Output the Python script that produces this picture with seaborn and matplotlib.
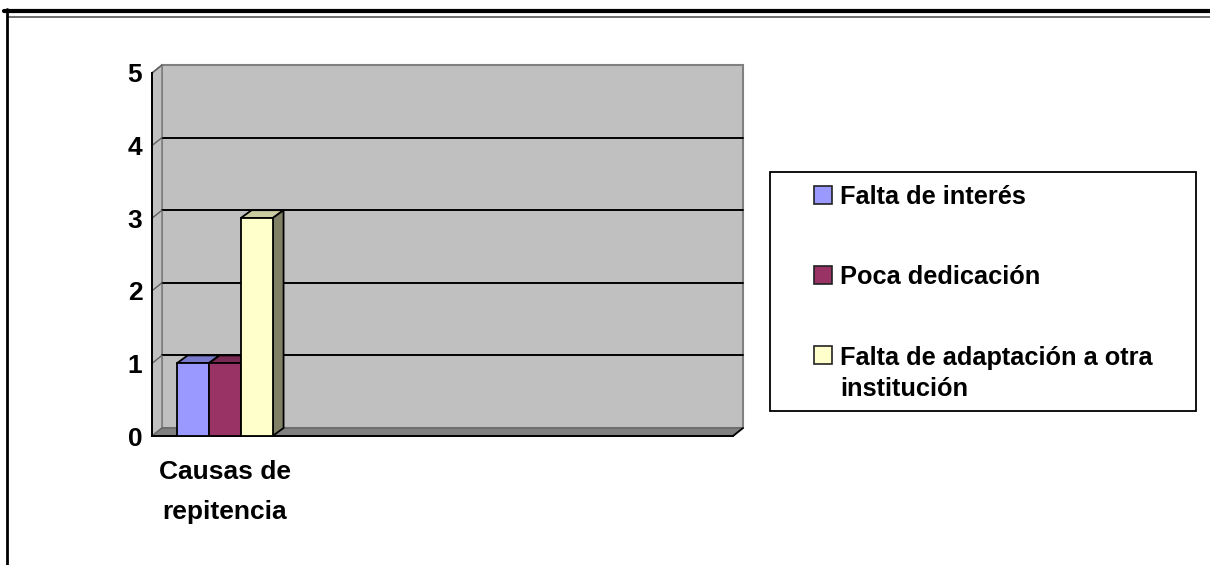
import matplotlib
matplotlib.use("Agg")
import pandas as pd
import matplotlib.pyplot as plt
from matplotlib.patches import Polygon, Rectangle
from matplotlib.lines import Line2D
import seaborn as sns

# chart data
categories = ["Causas de\nrepitencia"]
series = ["Falta de interés", "Poca dedicación", "Falta de adaptación a otra\ninstitución"]
values = [1, 1, 3]
colors = ["#9999FF", "#993366", "#FFFFCC"]
y_ticks = [0, 1, 2, 3, 4, 5]
n_slots = 4  # Excel left three empty category slots

W, H = 1210, 565
FONT = "Liberation Sans"
FS = 19
LEG_FS = 18.3


def shade(hex_color, k):
    r, g, b = matplotlib.colors.to_rgb(hex_color)
    return (r * k, g * k, b * k)


def main() -> None:
    sns.set_style("white")
    plt.rcParams["font.family"] = [FONT, "DejaVu Sans"]
    plt.rcParams["text.color"] = "black"
    plt.rcParams["xtick.color"] = "black"
    plt.rcParams["ytick.color"] = "black"

    fig = plt.figure(figsize=(W / 100, H / 100), dpi=100)
    # front plane of the 3d box, in pixels
    left, right, top, bottom = 152, 733, 73, 436
    ax = fig.add_axes([left / W, 1 - bottom / H, (right - left) / W, (bottom - top) / H])
    ax.set_facecolor("none")

    df = pd.DataFrame({
        "categoria": [categories[0]] * len(series),
        "causa": series,
        "valor": values,
    })
    sns.barplot(
        data=df, x="categoria", y="valor", hue="causa",
        order=categories, hue_order=series, palette=colors,
        width=0.66, saturation=1, edgecolor="black", linewidth=1.3,
        legend=False, ax=ax,
    )

    x0, x1 = -0.5, n_slots - 0.5
    y0, y1 = y_ticks[0], y_ticks[-1]
    ax.set_xlim(x0, x1)
    ax.set_ylim(y0, y1)

    # pixel depth -> data units
    px_x = (x1 - x0) / (right - left)
    px_y = (y1 - y0) / (bottom - top)
    dx, dy = 10 * px_x, 8 * px_y
    bdx, bdy = 11 * px_x, 8 * px_y

    # walls
    ax.add_patch(Rectangle((x0 + dx, y0 + dy), x1 - x0, y1 - y0, facecolor="#C0C0C0",
                           edgecolor="#808080", lw=1.5, zorder=0, clip_on=False))
    ax.add_patch(Polygon([(x0, y0), (x0 + dx, y0 + dy), (x0 + dx, y1 + dy), (x0, y1)],
                         closed=True, facecolor="#C0C0C0", edgecolor="#808080", lw=1.2,
                         zorder=0.5, clip_on=False))
    ax.add_patch(Polygon([(x0, y0), (x1, y0), (x1 + dx, y0 + dy), (x0 + dx, y0 + dy)],
                         closed=True, facecolor="#808080", edgecolor="#666666", lw=1.0,
                         zorder=0.6, clip_on=False))
    for t in y_ticks[1:-1]:
        ax.add_line(Line2D([x0 + dx, x1 + dx], [t + dy, t + dy], color="black", lw=1.4,
                           zorder=0.7, clip_on=False))
        ax.add_line(Line2D([x0, x0 + dx], [t, t + dy], color="#606060", lw=1.0,
                           zorder=0.7, clip_on=False))
    ax.add_line(Line2D([x0, x0 + dx], [y1, y1 + dy], color="#606060", lw=1.0,
                       zorder=0.7, clip_on=False))
    ax.add_line(Line2D([x1, x1 + dx], [y0, y0 + dy], color="black", lw=1.3,
                       zorder=3, clip_on=False))

    # 3d faces for the bars
    for i, bar in enumerate(ax.patches[:len(series)]):
        bx, bw, bh = bar.get_x(), bar.get_width(), bar.get_height()
        fc = bar.get_facecolor()
        bar.set_zorder(5 + 2 * i)
        ax.add_patch(Polygon([(bx, bh), (bx + bw, bh), (bx + bw + bdx, bh + bdy), (bx + bdx, bh + bdy)],
                             closed=True, facecolor=shade(fc, 0.8), edgecolor="black", lw=1.3,
                             zorder=4 + 2 * i, clip_on=False))
        ax.add_patch(Polygon([(bx + bw, 0), (bx + bw + bdx, bdy), (bx + bw + bdx, bh + bdy), (bx + bw, bh)],
                             closed=True, facecolor=shade(fc, 0.5), edgecolor="black", lw=1.3,
                             zorder=4 + 2 * i, clip_on=False))

    # axes and ticks
    for side in ["top", "right"]:
        ax.spines[side].set_visible(False)
    for side in ["left", "bottom"]:
        ax.spines[side].set_color("black")
        ax.spines[side].set_linewidth(1.4)
        ax.spines[side].set_zorder(3)
    ax.set_yticks(y_ticks)
    ax.set_yticklabels([str(t) for t in y_ticks], fontsize=FS, fontweight="bold")
    ax.tick_params(axis="y", direction="out", length=6, width=1.3, color="black", pad=1)
    ax.set_xticks([0])
    ax.set_xticklabels(categories, fontsize=FS, fontweight="bold", linespacing=1.85)
    ax.tick_params(axis="x", which="major", length=0, pad=17)
    ax.set_xticks([x0 + k for k in range(n_slots + 1)], minor=True)
    ax.tick_params(axis="x", which="minor", direction="out", length=6, width=1.3, color="black")
    ax.set_xlabel("")
    ax.set_ylabel("")

    # legend box drawn by hand so the key squares sit on the first text line
    fig.add_artist(Rectangle((770 / W, 1 - 411 / H), (1196 - 770) / W, (411 - 172) / H,
                             transform=fig.transFigure, facecolor="white", edgecolor="black",
                             lw=1.3))
    line_px = 31.5
    for i, (label, c) in enumerate(zip(series, colors)):
        base = 204 + 80 * i
        extra = label.count("\n") * line_px
        fig.add_artist(Rectangle((814 / W, 1 - base / H), 18 / W, 18 / H,
                                 transform=fig.transFigure, facecolor=c,
                                 edgecolor="#222222", lw=1.2))
        fig.text(840 / W, 1 - (base + extra) / H, label, ha="left", va="baseline",
                 fontsize=LEG_FS, fontweight="bold", linespacing=1.35)

    # page frame lines
    fig.add_artist(Line2D([4 / W, 1], [1 - 10.5 / H] * 2, transform=fig.transFigure,
                          color="black", lw=3))
    fig.add_artist(Line2D([8 / W, 1], [1 - 17 / H] * 2, transform=fig.transFigure,
                          color="#555555", lw=1.2))
    fig.add_artist(Line2D([7 / W] * 2, [0, 1 - 9 / H], transform=fig.transFigure,
                          color="black", lw=2))

    fig.savefig("out.png", dpi=100)


if __name__ == "__main__":
    main()
